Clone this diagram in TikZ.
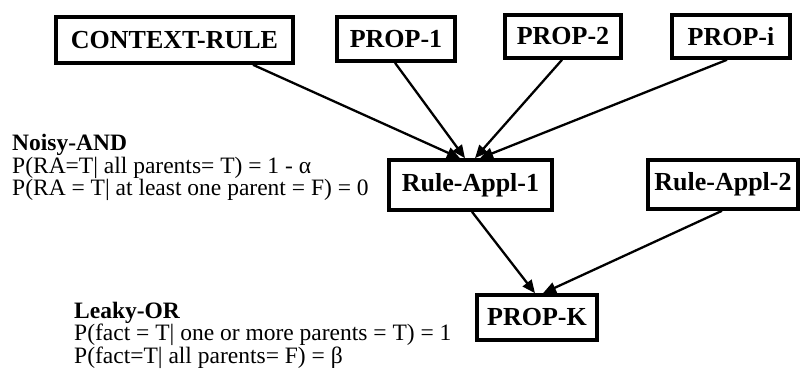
\documentclass[tikz,border=0pt]{standalone}
\usepackage{fontspec}
\setmainfont{Liberation Serif}
\usetikzlibrary{arrows.meta}
\begin{document}
\begin{tikzpicture}[x=1pt,y=-1pt,
  box/.style={draw, line width=3.6pt, inner sep=0pt,
    font=\fontsize{26}{28}\selectfont\bfseries},
  conn/.style={line width=2.3pt, -{Triangle[length=13pt,width=11pt]}},
  txt/.style={anchor=base west, inner sep=0pt, align=left,
    font=\fontsize{23.5}{20.3}\selectfont}]
\useasboundingbox (0,0) rectangle (802,385);

\node[box, minimum width=237pt, minimum height=46pt] (cr) at (174.5,40) {CONTEXT-RULE};
\node[box, minimum width=118pt, minimum height=44pt] (p1) at (396,39) {PROP-1};
\node[box, minimum width=116pt, minimum height=43pt] (p2) at (563,36.5) {PROP-2};
\node[box, minimum width=118pt, minimum height=43pt] (pi) at (731,36.5) {PROP-i};
\node[box, minimum width=163pt, minimum height=50pt] (ra1) at (470.5,185) {Rule-Appl-1};
\node[box, minimum width=150pt, minimum height=49pt] (ra2) at (723,184.5) {Rule-Appl-2};
\node[box, minimum width=120pt, minimum height=45pt] (pk) at (537,317.5) {PROP-K};

\draw[conn] ([xshift=78.5pt]cr.south) -- ([xshift=-10.5pt]ra1.north);
\draw[conn] ([xshift=-1pt]p1.south) -- ([xshift=-5.5pt]ra1.north);
\draw[conn] ([xshift=-1pt]p2.south) -- ([xshift=4.5pt]ra1.north);
\draw[conn] ([xshift=-4pt]pi.south) -- ([xshift=9.5pt]ra1.north);
\draw[conn] ([xshift=1.5pt]ra1.south) -- ([xshift=-2pt]pk.north);
\draw[conn] ([xshift=-1pt]ra2.south) -- ([xshift=6pt]pk.north);

\node[txt] (na) at (12,195.6) {\textbf{Noisy-AND}\\
  P(RA=T| all parents= T) = 1 - α\\
  P(RA = T| at least one parent = F) = 0};

\node[txt] (lo) at (74,363.6) {\textbf{Leaky-OR}\\
  P(fact = T| one or more parents = T) = 1\\
  P(fact=T| all parents= F) = β};
\end{tikzpicture}
\end{document}
